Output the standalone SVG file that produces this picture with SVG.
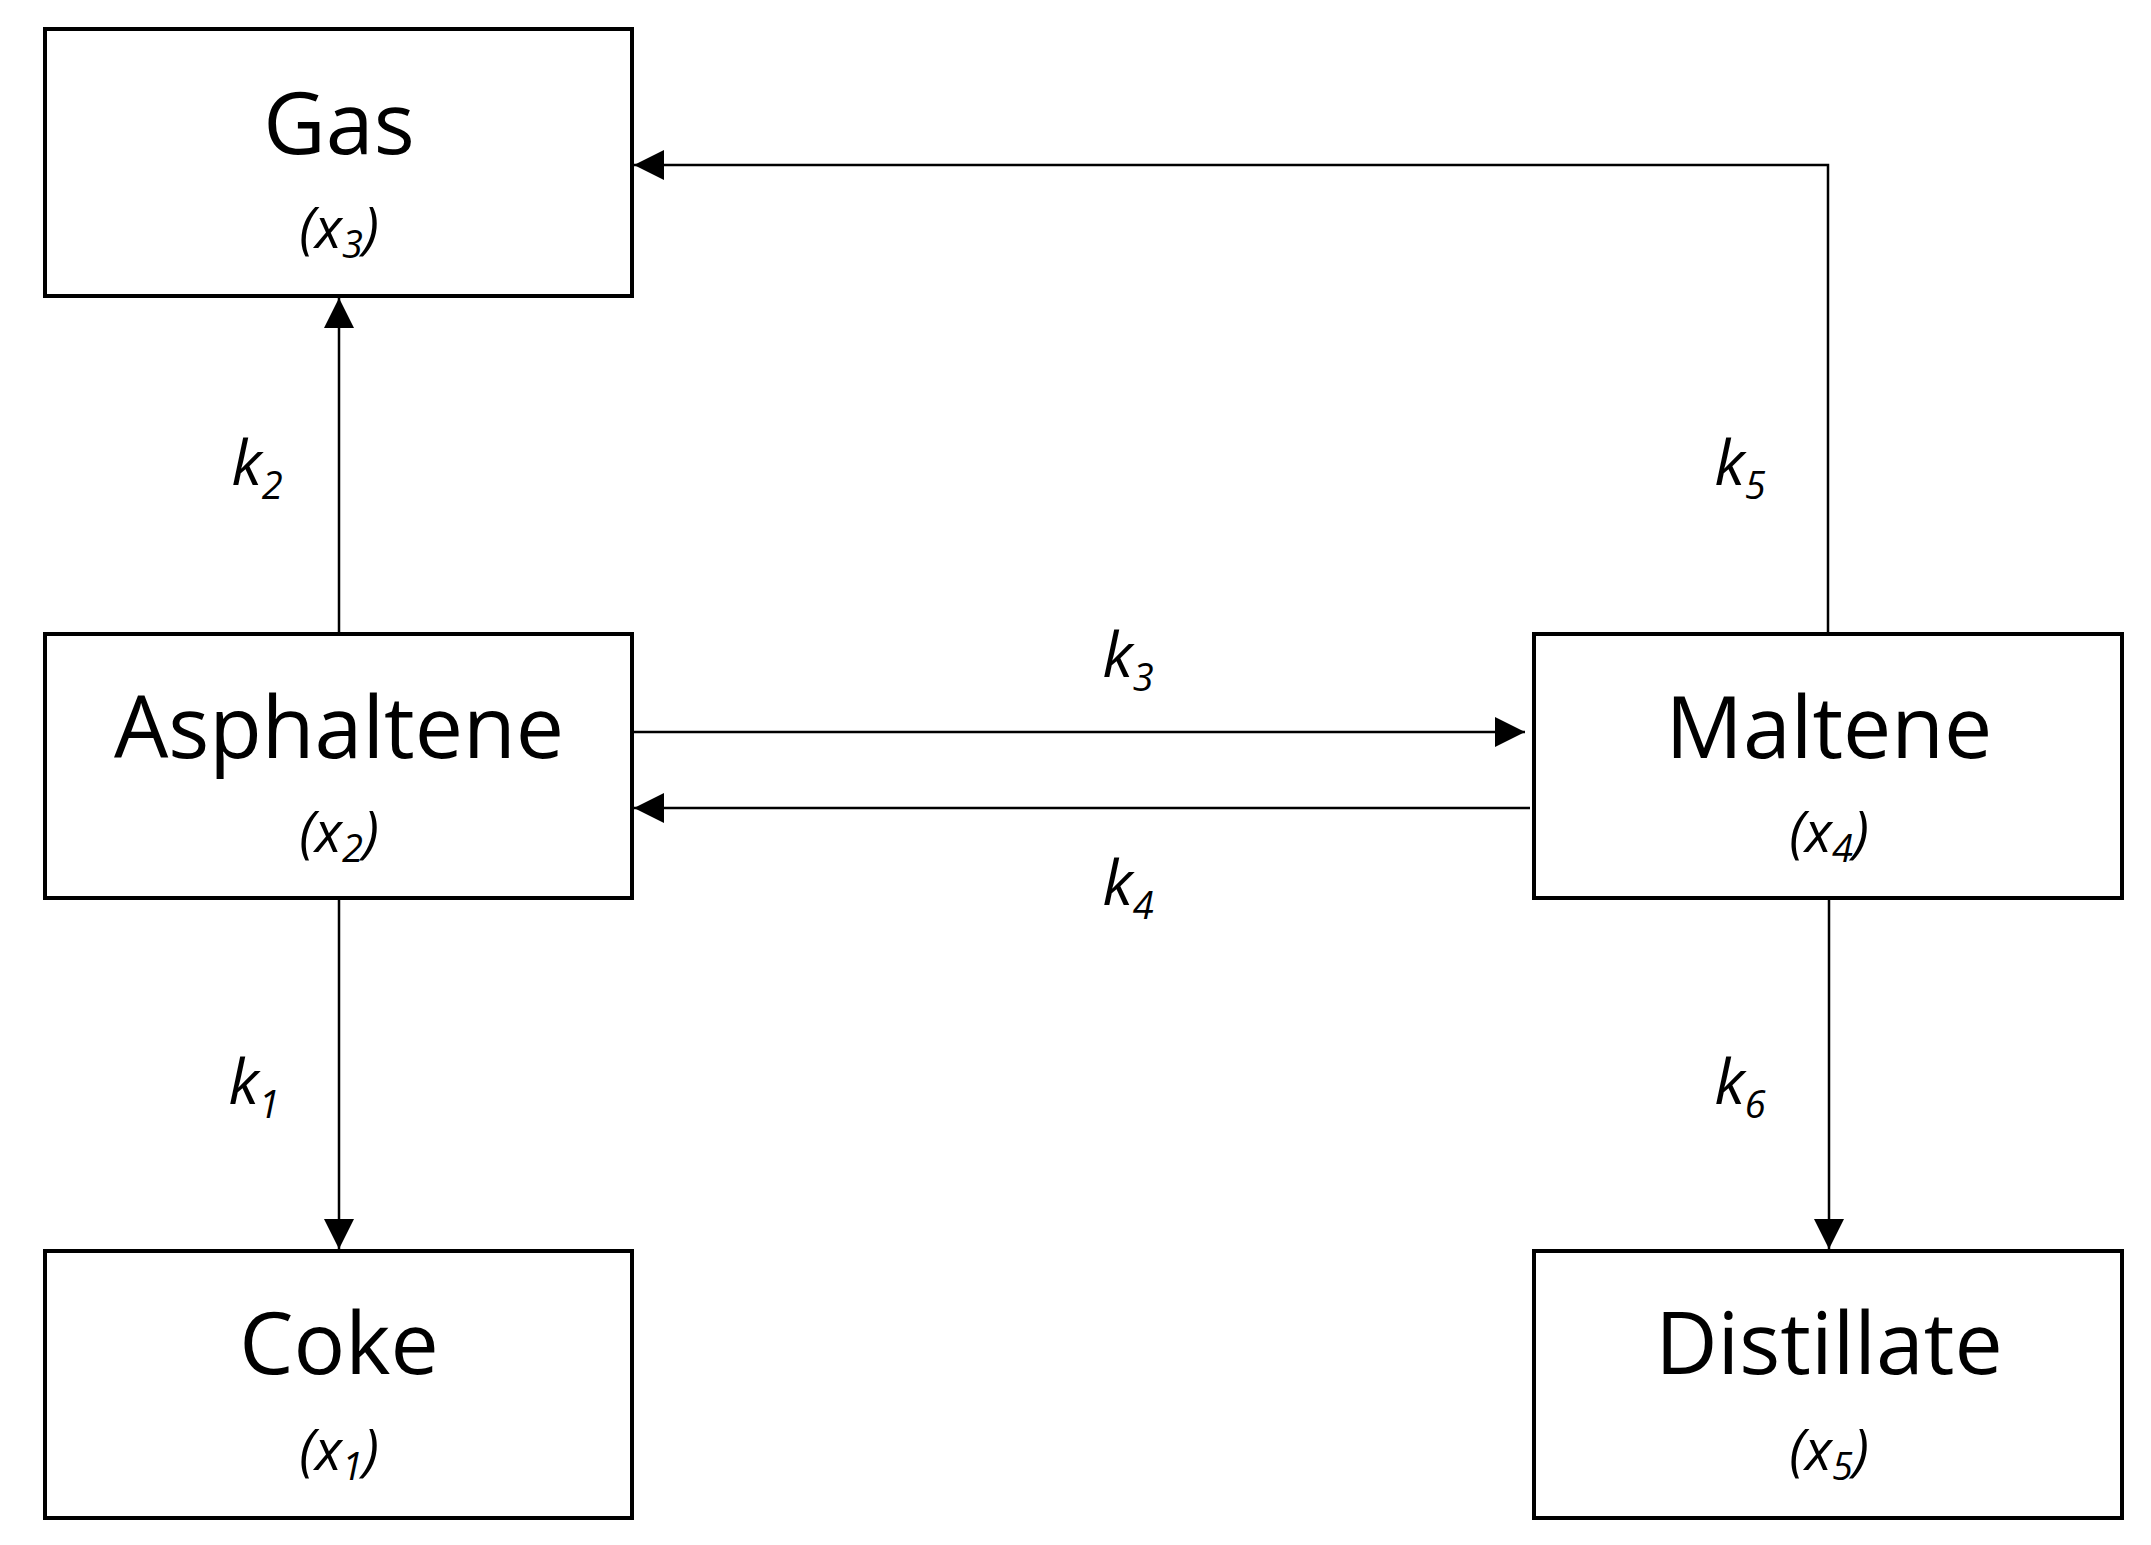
<svg xmlns="http://www.w3.org/2000/svg" width="2151" height="1545" viewBox="0 0 2151 1545">
<style>
.box{fill:#fff;stroke:#000;stroke-width:4}
.t{font-family:"Open Sans","Liberation Sans",sans-serif;font-size:86px;text-anchor:middle}
.s{font-family:"Open Sans","Liberation Sans",sans-serif;font-size:56px;font-style:italic;text-anchor:middle}
.sub{font-size:38px}
.k{font-family:"Open Sans","Liberation Sans",sans-serif;font-size:62px;font-style:italic;text-anchor:middle}
.c{fill:none;stroke:#000;stroke-width:2.5}
</style>
<defs><marker id="a" viewBox="0 0 10 10" refX="10" refY="5" markerWidth="12" markerHeight="12" markerUnits="userSpaceOnUse" orient="auto"><path d="M0,0L10,5L0,10z"/></marker>
<marker id="b" viewBox="0 0 10 10" refX="10" refY="5" markerWidth="30" markerHeight="30" markerUnits="userSpaceOnUse" orient="auto"><path d="M0,0L10,5L0,10z"/></marker></defs>
<rect width="2151" height="1545" fill="#fff"/>
<g id="connectors">
<path class="c" d="M339,634V298" marker-end="url(#b)"/>
<path class="c" d="M339,898V1249" marker-end="url(#b)"/>
<path class="c" d="M632,732H1525" marker-end="url(#b)"/>
<path class="c" d="M1530,808H634" marker-end="url(#b)"/>
<path class="c" d="M1828,634V165H634" marker-end="url(#b)"/>
<path class="c" d="M1829,898V1249" marker-end="url(#b)"/>
<text class="k" x="257" y="485">k<tspan class="sub" dy="14">2</tspan></text>
<text class="k" x="254" y="1104">k<tspan class="sub" dy="14">1</tspan></text>
<text class="k" x="1128" y="677">k<tspan class="sub" dy="14">3</tspan></text>
<text class="k" x="1128" y="905">k<tspan class="sub" dy="14">4</tspan></text>
<text class="k" x="1740" y="485">k<tspan class="sub" dy="14">5</tspan></text>
<text class="k" x="1740" y="1104">k<tspan class="sub" dy="14">6</tspan></text>
</g>
<g id="gas"><rect class="box" x="45" y="29" width="587" height="267"/><text class="t" x="339" y="154">Gas</text><text class="s" x="339" y="248">(x<tspan class="sub" dy="10">3</tspan><tspan dy="-10">)</tspan></text></g>
<g id="asphaltene"><rect class="box" x="45" y="634" width="587" height="264"/><text class="t" x="339" y="758">Asphaltene</text><text class="s" x="339" y="852">(x<tspan class="sub" dy="10">2</tspan><tspan dy="-10">)</tspan></text></g>
<g id="coke"><rect class="box" x="45" y="1251" width="587" height="267"/><text class="t" x="339" y="1374">Coke</text><text class="s" x="339" y="1470">(x<tspan class="sub" dy="10">1</tspan><tspan dy="-10">)</tspan></text></g>
<g id="maltene"><rect class="box" x="1534" y="634" width="588" height="264"/><text class="t" x="1829" y="758">Maltene</text><text class="s" x="1829" y="852">(x<tspan class="sub" dy="10">4</tspan><tspan dy="-10">)</tspan></text></g>
<g id="distillate"><rect class="box" x="1534" y="1251" width="588" height="267"/><text class="t" x="1829" y="1374">Distillate</text><text class="s" x="1829" y="1470">(x<tspan class="sub" dy="10">5</tspan><tspan dy="-10">)</tspan></text></g>
</svg>
